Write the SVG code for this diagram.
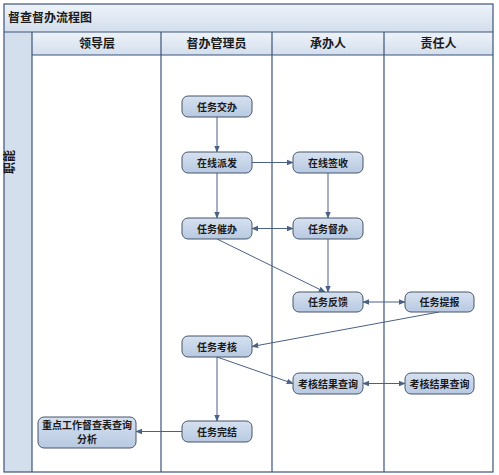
<svg xmlns="http://www.w3.org/2000/svg" width="499" height="475" viewBox="0 0 499 475">
<defs>
<linearGradient id="hdr" x1="0" y1="0" x2="0" y2="1"><stop offset="0" stop-color="#eef3f9"/><stop offset="1" stop-color="#d3deed"/></linearGradient>
<linearGradient id="nd" x1="0" y1="0" x2="0" y2="1"><stop offset="0" stop-color="#d6e1f0"/><stop offset="1" stop-color="#b7c9e1"/></linearGradient>
<marker id="ar" viewBox="0 0 10 10" refX="9" refY="5" markerWidth="7" markerHeight="7" orient="auto-start-reverse" markerUnits="userSpaceOnUse"><path d="M0,1 L10,5 L0,9 z" fill="#4a6185"/></marker>
<style>
.frame{fill:none;stroke:#3d5478;stroke-width:1.2}
.ln{stroke:#3d5478;stroke-width:1.2}
.t{font-family:"Noto Sans CJK SC","Noto Sans",sans-serif;font-weight:bold;fill:#1a1a1a}
.h{font-size:12px;text-anchor:middle}
.n rect{fill:url(#nd);stroke:#46556b;stroke-width:1}
.n text{font-family:"Noto Sans CJK SC","Noto Sans",sans-serif;font-weight:bold;font-size:10px;fill:#1a1a1a;text-anchor:middle}
.c path,.c line{stroke:#4a6185;stroke-width:1;fill:none;marker-end:url(#ar)}
</style>
</defs>
<rect x="0" y="0" width="499" height="475" fill="#ffffff"/>
<rect x="4" y="4" width="489" height="28" fill="url(#hdr)"/>
<rect x="4" y="32" width="489" height="23" fill="url(#hdr)"/>
<rect x="4" y="32" width="28" height="440" fill="#d4dfee"/>
<rect x="4" y="4" width="489" height="468" class="frame"/>
<line x1="4" y1="32" x2="493" y2="32" class="ln"/>
<line x1="32" y1="55" x2="493" y2="55" class="ln"/>
<line x1="32" y1="32" x2="32" y2="472" class="ln"/>
<line x1="161" y1="32" x2="161" y2="472" class="ln"/>
<line x1="272" y1="32" x2="272" y2="472" class="ln"/>
<line x1="384" y1="32" x2="384" y2="472" class="ln"/>
<text x="8" y="22" class="t" font-size="12">督查督办流程图</text>
<text x="97" y="48" class="t h">领导层</text>
<text x="216.5" y="48" class="t h">督办管理员</text>
<text x="328" y="48" class="t h">承办人</text>
<text x="438.5" y="48" class="t h">责任人</text>
<text x="0" y="0" class="t h" transform="translate(14,162) rotate(-90)" font-size="12">职能</text>

<g class="c" id="connectors">
<line x1="217" y1="117" x2="217" y2="152"/>
<line x1="252" y1="162.5" x2="293" y2="162.5"/>
<line x1="217" y1="173" x2="217" y2="218"/>
<line x1="328" y1="173" x2="328" y2="218"/>
<line x1="252" y1="228.5" x2="293" y2="228.5" marker-start="url(#ar)"/>
<line x1="217" y1="239" x2="325" y2="292"/>
<line x1="328" y1="239" x2="328" y2="292"/>
<line x1="363" y1="302" x2="405" y2="302" marker-start="url(#ar)"/>
<line x1="439" y1="312" x2="252" y2="346.5"/>
<line x1="217" y1="357" x2="293" y2="383.5"/>
<line x1="363" y1="383.5" x2="405" y2="383.5" marker-start="url(#ar)"/>
<line x1="217" y1="357" x2="217" y2="421"/>
<line x1="182" y1="431.5" x2="136" y2="431.5"/>
</g>

<g class="n" id="n1"><rect x="182" y="96" width="70" height="21" rx="6"/><text x="217" y="110.5">任务交办</text></g>
<g class="n" id="n2"><rect x="182" y="152" width="70" height="21" rx="6"/><text x="217" y="166.5">在线派发</text></g>
<g class="n" id="n3"><rect x="293" y="152" width="70" height="21" rx="6"/><text x="328" y="166.5">在线签收</text></g>
<g class="n" id="n4"><rect x="182" y="218" width="70" height="21" rx="6"/><text x="217" y="232.5">任务催办</text></g>
<g class="n" id="n5"><rect x="293" y="218" width="70" height="21" rx="6"/><text x="328" y="232.5">任务督办</text></g>
<g class="n" id="n6"><rect x="293" y="292" width="70" height="20" rx="6"/><text x="328" y="306">任务反馈</text></g>
<g class="n" id="n7"><rect x="405" y="292" width="69" height="20" rx="6"/><text x="439.5" y="306">任务提报</text></g>
<g class="n" id="n8"><rect x="182" y="336" width="70" height="21" rx="6"/><text x="217" y="350.5">任务考核</text></g>
<g class="n" id="n9"><rect x="293" y="373" width="70" height="21" rx="6"/><text x="328" y="387.5">考核结果查询</text></g>
<g class="n" id="n10"><rect x="405" y="373" width="69" height="21" rx="6"/><text x="439.5" y="387.5">考核结果查询</text></g>
<g class="n" id="n11"><rect x="182" y="421" width="70" height="21" rx="6"/><text x="217" y="435.5">任务完结</text></g>
<g class="n" id="n12"><rect x="38" y="417" width="98" height="31" rx="6"/><text x="87" y="429">重点工作督查表查询</text><text x="87" y="443">分析</text></g>
</svg>
